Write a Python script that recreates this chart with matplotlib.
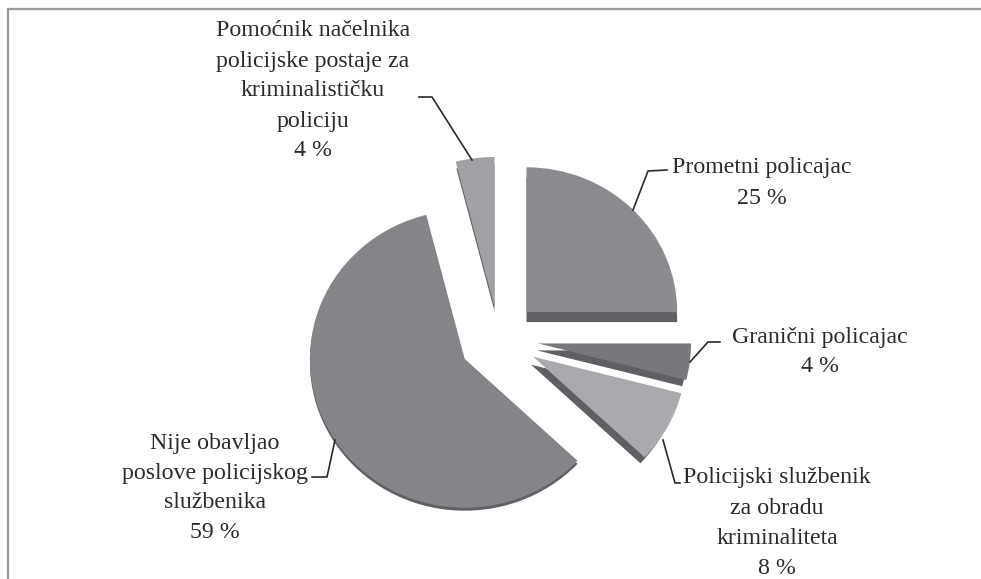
import matplotlib
matplotlib.use("Agg")
import matplotlib.pyplot as plt

W, H = 981, 579
# counter-clockwise from 90 deg
names = ["Pomoćnik načelnika\npolicijske postaje za\nkriminalističku\npoliciju\n4 %",
         "Nije obavljao\nposlove policijskog\nslužbenika\n59 %",
         "Policijski službenik\nza obradu\nkriminaliteta\n8 %",
         "Granični policajac\n4 %",
         "Prometni policajac\n25 %"]
values = [4, 59, 8, 4, 25]
explode = [0.165, 0.28, 0.25, 0.24, 0.23]
top_colors = ["#a0a1a5", "#848588", "#a9aaad", "#77787b", "#8a8b8e"]
side_depth = [4, 3, 8, 7, 10]
side_shift = [0, 0, -2, -1, 0]
side_radius = [1.0, 1.012, 0.98, 0.98, 0.985]
top_radius = [1.02, 1.012, 1.0, 1.0, 0.985]
nudge = [(-4, -5), (0, 2), (-2, 3), (0, 3), (0, 0)]
label_xy = [(313, 31), (215, 443), (777, 478), (820, 337), (762, 168)]
leaders = [[(419, 97), (432, 97), (472, 160)],
           [(312, 477), (327, 477), (335, 440)],
           [(680, 483), (675, 483), (663, 440)],
           [(720, 342), (708, 342), (690, 362)],
           [(667, 170), (648, 171), (633, 210)]]

RX, RY = 153.0, 147.0
CX, CY = 501.6, 336.0

fig = plt.figure(figsize=(W / 100, H / 100), dpi=100, facecolor="white")
ax = fig.add_axes([0, 0, 1, 1])
shadow, _ = ax.pie(values, explode=explode, startangle=90, radius=1,
                   colors=["#5f6063"] * 5, wedgeprops=dict(linewidth=0))
for w, d, s, r, n in zip(shadow, side_depth, side_shift, side_radius, nudge):
    c = w.center
    w.set_center((c[0] + (n[0] + s) / RX, c[1] - (n[1] + d) / RY))
    w.set_radius(r)
tops, _ = ax.pie(values, explode=explode, startangle=90, radius=1,
                 colors=top_colors, wedgeprops=dict(linewidth=0))
for w, r, n in zip(tops, top_radius, nudge):
    c = w.center
    w.set_center((c[0] + n[0] / RX, c[1] - n[1] / RY))
    w.set_radius(r)
ax.set_aspect("auto")
ax.set_xlim(-CX / RX, (W - CX) / RX)
ax.set_ylim(-(H - CY) / RY, CY / RY)

ov = fig.add_axes([0, 0, 1, 1], facecolor="none")
ov.set_xlim(0, W)
ov.set_ylim(H, 0)
ov.axis("off")
ov.plot([8, 8, W], [H, 9, 9], color="#9a9a9a", lw=1.6, solid_joinstyle="miter")
for pts in leaders:
    ov.plot([p[0] for p in pts], [p[1] for p in pts], color="#2a2a2a", lw=1.2)
for name, (x, y) in zip(names, label_xy):
    for i, line in enumerate(name.split("\n")):
        ov.text(x, y + i * 30, line, ha="center", va="center",
                family="Liberation Serif", fontsize=17.2, color="#2b2b2b")
fig.savefig("out.png", dpi=100)
